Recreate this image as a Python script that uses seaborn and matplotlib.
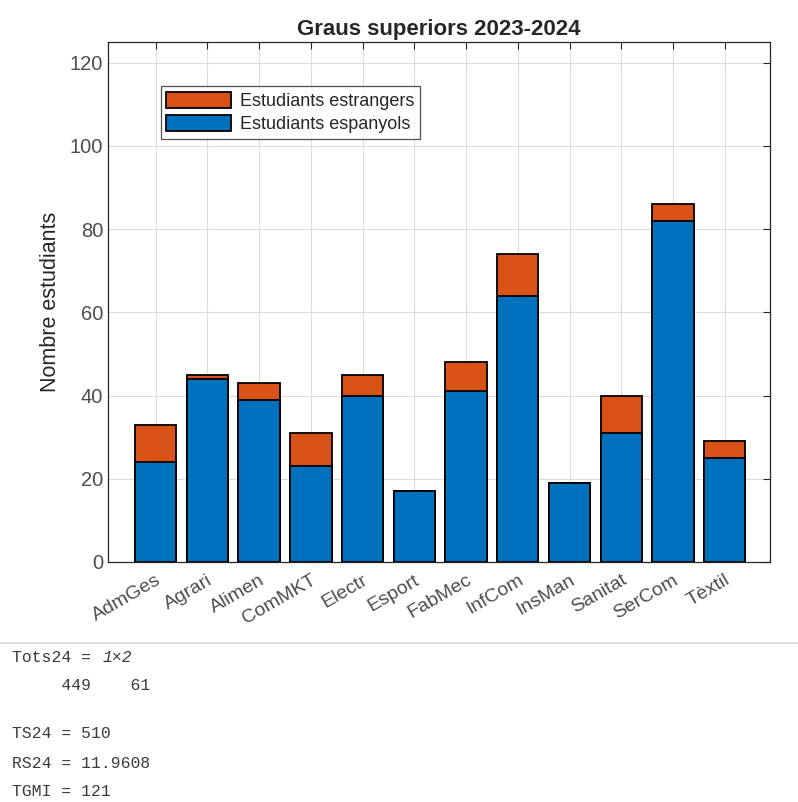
import pandas as pd
import seaborn as sns
import matplotlib.pyplot as plt

# Dades: estudiants per cicle (graus superiors 2023-2024)
cicles = ['AdmGes', 'Agrari', 'Alimen', 'ComMKT', 'Electr', 'Esport',
          'FabMec', 'InfCom', 'InsMan', 'Sanitat', 'SerCom', 'Tèxtil']
espanyols = [24, 44, 39, 23, 40, 17, 41, 64, 19, 31, 82, 25]
estrangers = [9, 1, 4, 8, 5, 0, 7, 10, 0, 9, 4, 4]

console_lines = ['Tots24 = ', '449    61', 'TS24 = 510', 'RS24 = 11.9608', 'TGMI = 121']

blau = '#0072BD'
taronja = '#D95319'

df = pd.DataFrame({'cicle': cicles, 'espanyols': espanyols, 'estrangers': estrangers})
df['total'] = df['espanyols'] + df['estrangers']

sns.set_style('white')
plt.rcParams['font.family'] = ['Liberation Sans', 'DejaVu Sans']

fig = plt.figure(figsize=(7.98, 8.02), dpi=100)
ax = fig.add_axes([0.1353, 0.2993, 0.830, 0.6484])

# barres apilades: total (taronja) al darrere, espanyols (blau) al davant
sns.barplot(data=df, x='cicle', y='total', color=taronja, saturation=1, width=0.8,
            edgecolor='black', linewidth=1.3, label='Estudiants estrangers', ax=ax, zorder=3)
sns.barplot(data=df, x='cicle', y='espanyols', color=blau, saturation=1, width=0.8,
            edgecolor='black', linewidth=1.3, label='Estudiants espanyols', ax=ax, zorder=3)

ax.set_xlim(-0.92, 11.88)
ax.set_ylim(0, 125)
ax.set_yticks(range(0, 121, 20))
ax.grid(True, color='#dcdcdc', linewidth=0.8, zorder=0)
ax.set_axisbelow(True)
for s in ax.spines.values():
    s.set_color('#262626')
    s.set_linewidth(0.9)
ax.tick_params(direction='in', top=True, right=True, length=5, color='#262626',
               labelsize=14.5, labelcolor='#4d4d4d')
ax.tick_params(axis='x', labelsize=14, pad=7)
plt.setp(ax.get_xticklabels(), rotation=30, ha='right', rotation_mode='anchor')
ax.set_xlabel('')
ax.set_ylabel('Nombre estudiants', fontsize=15.5, color='#262626', labelpad=6)
ax.set_title('Graus superiors 2023-2024', fontsize=16, fontweight='bold', pad=5)

leg = ax.legend(loc='upper left', bbox_to_anchor=(0.08, 0.915), fontsize=13,
                frameon=True, fancybox=False, edgecolor='#262626',
                handlelength=3.6, handleheight=1.05, handletextpad=0.5,
                borderpad=0.3, labelspacing=0.25, borderaxespad=0)
leg.get_frame().set_linewidth(0.9)

# línia separadora i sortida de la consola
fig.add_artist(plt.Line2D([0, 1], [1 - 643 / 802, 1 - 643 / 802], color='#d8d8d8', linewidth=1.2))
mono = dict(family='Liberation Mono', fontsize=11.8, color='#3a3a3a', va='center')
fig.text(12 / 798, 1 - 657 / 802, console_lines[0], **mono)
fig.text(103 / 798, 1 - 657 / 802, '1×2', style='italic', **mono)
fig.text(12 / 798, 1 - 686 / 802, '     ' + console_lines[1], **mono)
fig.text(12 / 798, 1 - 734 / 802, console_lines[2], **mono)
fig.text(12 / 798, 1 - 763 / 802, console_lines[3], **mono)
fig.text(12 / 798, 1 - 791 / 802, console_lines[4], **mono)

fig.savefig('out.png', dpi=100, facecolor='white')
